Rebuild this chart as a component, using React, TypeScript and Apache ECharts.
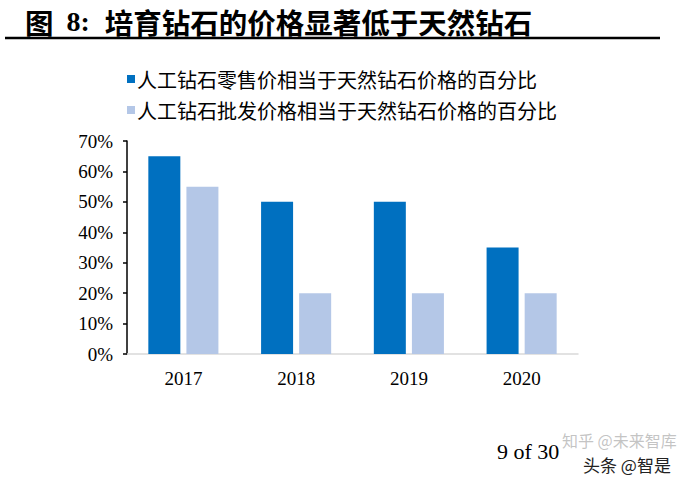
import React, { useEffect, useRef } from "react";
import * as echarts from "echarts";

const categories = ["2017", "2018", "2019", "2020"];
const retailPct = [65, 50, 50, 35];
const wholesalePct = [55, 20, 20, 20];
const seriesNames = [
  "人工钻石零售价相当于天然钻石价格的百分比",
  "人工钻石批发价格相当于天然钻石价格的百分比",
];
const yTicks = { min: 0, max: 70, interval: 10 };

const SERIF = "'Liberation Serif', 'Times New Roman', serif";
const CJK = "'Noto Sans CJK SC', sans-serif";

export default function App() {
  const ref = useRef<HTMLDivElement>(null);
  useEffect(() => {
    if (!ref.current) return;
    const chart = echarts.init(ref.current, undefined, { renderer: "svg" });
    chart.setOption({
      animation: false,
      backgroundColor: "#ffffff",
      title: {
        left: 20,
        top: 2,
        text: "{a|图} {b|8:} {a|培育钻石的价格显著低于天然钻石}",
        textStyle: {
          rich: {
            a: { fontFamily: CJK, fontWeight: "bold", fontSize: 28.5, color: "#000" },
            b: { fontFamily: SERIF, fontWeight: "bold", fontSize: 28, color: "#000", padding: [0, 10, 0, 8] },
          },
        },
      },
      legend: {
        orient: "vertical",
        left: 122,
        top: 64,
        itemWidth: 8,
        itemHeight: 8,
        itemGap: 11,
        icon: "rect",
        textStyle: { fontFamily: CJK, fontSize: 20, color: "#000", padding: [0, 0, 0, -3] },
        data: seriesNames,
      },
      grid: { left: 127, right: 107, top: 141, bottom: 129, containLabel: false },
      xAxis: {
        type: "category",
        data: categories,
        axisLine: { lineStyle: { color: "#d9d9d9", width: 1.5 } },
        axisTick: { show: false },
        axisLabel: { fontFamily: SERIF, fontSize: 19, color: "#000", margin: 15 },
      },
      yAxis: {
        type: "value",
        min: yTicks.min,
        max: yTicks.max,
        interval: yTicks.interval,
        axisLine: { show: true, lineStyle: { color: "#000", width: 1.5 } },
        axisTick: { show: true, inside: false, length: 4, lineStyle: { color: "#000", width: 1.5 } },
        splitLine: { show: false },
        axisLabel: { fontFamily: SERIF, fontSize: 19, color: "#000", margin: 14, formatter: "{value}%" },
      },
      series: [
        {
          name: seriesNames[0],
          type: "bar",
          data: retailPct,
          barWidth: 32,
          barGap: "19%",
          itemStyle: { color: "#0070C0" },
        },
        {
          name: seriesNames[1],
          type: "bar",
          data: wholesalePct,
          barWidth: 32,
          barGap: "19%",
          itemStyle: { color: "#B4C7E7" },
        },
      ],
      graphic: [
        {
          type: "line",
          shape: { x1: 5, y1: 38, x2: 660, y2: 38 },
          style: { stroke: "#000", lineWidth: 2.5 },
        },
        {
          type: "text",
          left: 497,
          top: 440,
          style: { text: "9 of 30", font: `22px ${SERIF}`, fill: "#000" },
        },
        {
          type: "text",
          left: 562,
          top: 432,
          style: { text: "知乎 @未来智库", font: `16px ${CJK}`, fill: "rgba(170,170,170,0.7)" },
        },
        {
          type: "text",
          left: 582,
          top: 455,
          style: { text: "头条 @智是", font: `17px ${CJK}`, fill: "#222", stroke: "#fff", lineWidth: 2 },
        },
      ],
    });
    return () => chart.dispose();
  }, []);
  return (
    <div
      ref={ref}
      style={{ position: "fixed", left: 0, top: 0, width: 685, height: 483, background: "#fff" }}
    />
  );
}
